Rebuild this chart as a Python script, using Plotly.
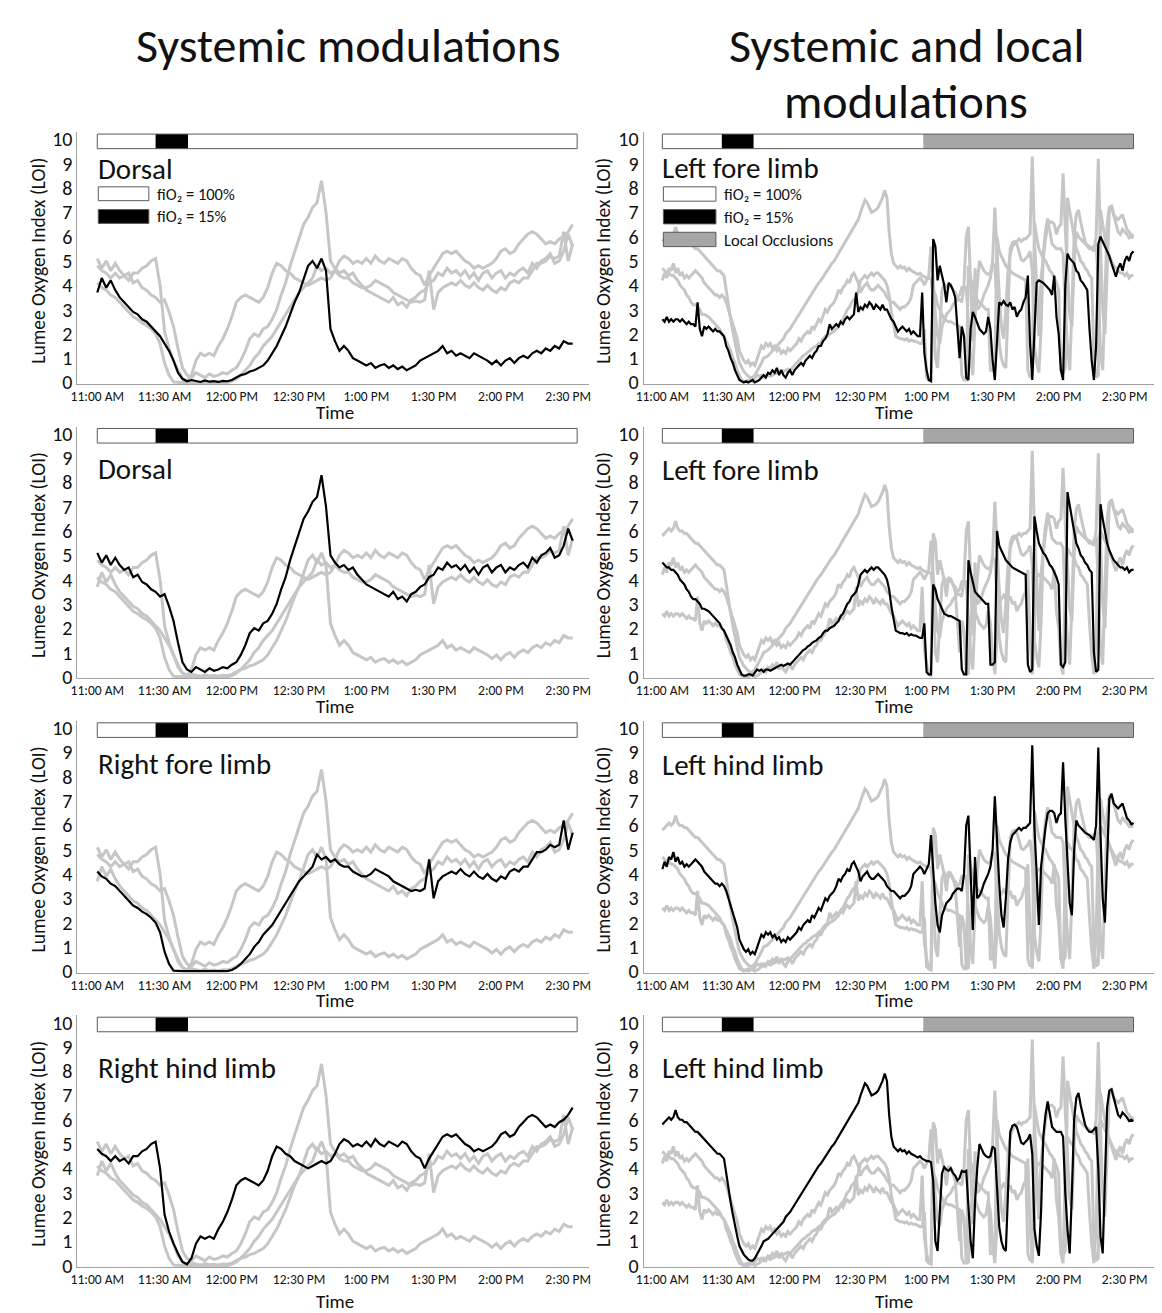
import plotly.graph_objects as go

W, H = 1162, 1313
FONT = "Calibri, Carlito, Lato, sans-serif"

# ---------------- data ----------------
tick_minutes = [0, 30, 60, 90, 120, 150, 180, 210]
tick_labels = ["11:00 AM", "11:30 AM", "12:00 PM", "12:30 PM",
               "1:00 PM", "1:30 PM", "2:00 PM", "2:30 PM"]
y_ticks = list(range(0, 11))

left_labels = ["Dorsal", "Dorsal", "Right fore limb", "Right hind limb"]
right_labels = ["Left fore limb", "Left fore limb", "Left hind limb", "Left hind limb"]

left_phase_start = [0, 26, 40.5]
left_phase_end = [26, 40.5, 214]
left_phase_fill = ["white", "black", "white"]
right_phase_start = [0, 27, 41.5, 118.5]
right_phase_end = [27, 41.5, 118.5, 214]
right_phase_fill = ["white", "black", "white", "#a6a6a6"]

legend_left = ["fiO\u2082 = 100%", "fiO\u2082 = 15%"]
legend_right = ["fiO\u2082 = 100%", "fiO\u2082 = 15%", "Local Occlusions"]
legend_fill = ["white", "black", "#a6a6a6"]

# minutes after 11:00 AM
t_left = list(range(0, 213, 2))
t_right = list(range(0, 215))

L1 = [3.7, 4.3, 3.9, 4.2, 3.8, 3.5, 3.3, 3.1, 2.9, 2.8,
      2.6, 2.5, 2.3, 2.1, 1.9, 1.6, 1.3, 0.9, 0.4, 0.15,
      0.05, 0.1, 0.05, 0.02, 0.08, 0.03, 0.05, 0.02, 0.06, 0.05,
      0.1, 0.2, 0.3, 0.35, 0.45, 0.5, 0.6, 0.7, 0.9, 1.2,
      1.5, 1.9, 2.3, 2.8, 3.3, 3.7, 4.3, 4.8, 5.0, 4.7,
      5.1, 4.6, 2.2, 1.7, 1.3, 1.5, 1.3, 1.0, 0.9, 0.8,
      0.7, 0.8, 0.6, 0.7, 0.75, 0.6, 0.7, 0.55, 0.65, 0.5,
      0.6, 0.7, 0.9, 1.0, 1.1, 1.2, 1.3, 1.5, 1.2, 1.3,
      1.1, 1.2, 1.1, 1.0, 1.2, 1.1, 1.0, 0.9, 0.75, 0.9,
      0.7, 0.9, 1.0, 0.8, 1.0, 1.1, 1.0, 1.2, 1.3, 1.2,
      1.4, 1.3, 1.5, 1.4, 1.7, 1.6, 1.6]
L2 = [5.1, 4.7, 5.0, 4.6, 4.9, 4.6, 4.4, 4.5, 4.1, 4.2,
      3.9, 3.8, 3.6, 3.5, 3.3, 3.4, 2.9, 2.3, 1.4, 0.6,
      0.3, 0.2, 0.4, 0.3, 0.2, 0.35, 0.25, 0.3, 0.4, 0.35,
      0.5, 0.6, 0.9, 1.3, 1.8, 2.0, 1.9, 2.2, 2.3, 2.6,
      3.0, 3.6, 4.1, 4.8, 5.4, 6.0, 6.5, 6.8, 7.2, 7.4,
      8.3, 7.0, 5.0, 4.7, 4.5, 4.6, 4.4, 4.5, 4.2, 4.0,
      3.8, 3.7, 3.6, 3.5, 3.4, 3.3, 3.5, 3.2, 3.3, 3.1,
      3.4, 3.5, 3.7, 3.8, 4.1, 4.2, 4.5, 4.4, 4.7, 4.5,
      4.6, 4.4, 4.6, 4.3, 4.5, 4.2, 4.5, 4.6, 4.3, 4.5,
      4.6, 4.3, 4.5, 4.4, 4.6, 4.7, 4.5, 4.9, 4.7, 5.0,
      5.1, 5.3, 4.9, 5.0, 5.4, 6.1, 5.6]
L3 = [4.1, 3.9, 3.8, 3.6, 3.5, 3.3, 3.1, 2.9, 2.7, 2.6,
      2.45, 2.35, 2.2, 2.0, 1.6, 0.8, 0.3, 0.02, 0.0, 0.0,
      0.0, 0.0, 0.0, 0.0, 0.0, 0.0, 0.0, 0.0, 0.0, 0.0,
      0.05, 0.15, 0.3, 0.5, 0.7, 1.0, 1.2, 1.5, 1.7, 1.9,
      2.2, 2.5, 2.8, 3.1, 3.4, 3.7, 3.9, 4.1, 4.3, 4.8,
      4.6, 4.7, 4.5, 4.6, 4.4, 4.3, 4.3, 4.1, 4.0, 3.9,
      3.9, 4.0, 4.2, 4.1, 4.0, 3.9, 3.7, 3.6, 3.5, 3.4,
      3.3, 3.35, 3.3, 3.4, 4.6, 3.0, 3.7, 3.9, 4.0, 4.1,
      4.0, 4.2, 4.0, 3.9, 4.1, 3.9, 3.8, 4.0, 3.8, 3.7,
      3.9, 3.8, 4.1, 4.2, 4.1, 4.3, 4.3, 4.6, 4.9, 4.9,
      5.0, 5.2, 5.1, 5.2, 6.2, 5.0, 5.7]
L4 = [4.8, 4.6, 4.5, 4.3, 4.5, 4.3, 4.4, 4.2, 4.5, 4.5,
      4.7, 4.8, 5.0, 5.1, 4.0, 2.1, 1.4, 0.9, 0.5, 0.15,
      0.05, 0.3, 0.9, 1.2, 1.1, 1.2, 1.1, 1.5, 1.8, 2.2,
      2.7, 3.3, 3.5, 3.6, 3.5, 3.4, 3.3, 3.5, 3.9, 4.5,
      4.9, 4.8, 4.6, 4.5, 4.3, 4.2, 4.1, 4.0, 4.1, 4.2,
      4.3, 4.2, 4.3, 4.6, 5.0, 5.2, 5.1, 4.9, 5.0, 4.9,
      5.1, 4.9, 5.2, 5.0, 4.9, 5.1, 5.0, 4.9, 5.1, 5.0,
      4.7, 4.5, 4.4, 4.0, 4.4, 4.7, 5.0, 5.3, 5.4, 5.3,
      5.4, 5.2, 5.0, 4.9, 4.7, 4.8, 4.7, 4.8, 4.9, 5.1,
      5.4, 5.5, 5.3, 5.4, 5.7, 5.9, 6.1, 6.2, 6.1, 5.9,
      5.7, 5.8, 5.7, 5.9, 6.0, 6.2, 6.5]

R1 = [2.6, 2.5, 2.7, 2.5, 2.6, 2.5, 2.6, 2.6, 2.5, 2.6,
      2.5, 2.4, 2.5, 2.4, 2.4, 2.3, 3.3, 2.2, 1.9, 2.3,
      2.2, 2.3, 2.2, 2.1, 2.2, 2.1, 2.1, 2.0, 1.9, 1.5,
      1.3, 1.0, 0.8, 0.5, 0.3, 0.1, 0.05, 0.0, 0.05, 0.0,
      0.05, 0.1, 0.0, 0.05, 0.1, 0.2, 0.3, 0.2, 0.4, 0.35,
      0.5, 0.4, 0.6, 0.3, 0.5, 0.3, 0.2, 0.4, 0.5, 0.3,
      0.5, 0.6, 0.7, 0.8, 0.7, 0.9, 1.0, 1.1, 1.0, 1.2,
      1.3, 1.5, 1.5, 1.7, 1.8, 2.0, 2.4, 2.2, 2.3, 2.4,
      2.3, 2.5, 2.4, 2.6, 2.7, 2.6, 2.7, 2.8, 3.7, 2.9,
      3.1, 3.0, 3.2, 3.1, 3.3, 3.2, 3.0, 3.2, 3.1, 3.0,
      3.2, 3.0, 3.0, 2.8, 2.6, 2.5, 2.3, 2.1, 2.2, 2.3,
      2.2, 2.1, 2.2, 2.0, 2.1, 2.0, 1.9, 1.9, 3.7, 1.2,
      0.5, 0.1, 0.05, 5.9, 5.6, 4.2, 4.8, 4.4, 4.0, 3.3,
      4.1, 4.0, 3.8, 3.5, 2.3, 1.0, 2.3, 1.9, 0.2, 0.1,
      2.2, 2.9, 2.7, 2.4, 2.2, 2.1, 2.0, 2.1, 2.7, 2.2,
      0.9, 0.1, 1.9, 3.3, 3.2, 3.35, 3.2, 3.15, 3.3, 3.0,
      3.1, 2.7, 2.9, 3.0, 3.3, 3.5, 4.4, 1.6, 0.1, 1.9,
      4.1, 4.2, 4.15, 4.1, 4.0, 3.9, 3.8, 3.6, 4.4, 2.7,
      2.0, 0.5, 0.1, 4.0, 5.3, 5.1, 5.0, 4.9, 4.6, 4.5,
      4.2, 4.1, 3.95, 3.8, 2.2, 0.9, 0.1, 1.5, 5.7, 6.0,
      5.8, 5.6, 5.45, 5.2, 4.9, 4.6, 4.35, 4.7, 4.9, 4.6,
      5.0, 5.2, 5.0, 5.3, 5.4]
R2 = [4.7, 4.6, 4.5, 4.5, 4.4, 4.4, 4.3, 4.2, 4.0, 3.9,
      3.8, 3.6, 3.5, 3.3, 3.2, 3.2, 3.1, 3.0, 2.8, 2.8,
      2.75, 2.7, 2.6, 2.5, 2.4, 2.3, 2.2, 2.0, 1.9, 1.7,
      1.5, 1.3, 1.0, 0.8, 0.5, 0.3, 0.1, 0.05, 0.05, 0.1,
      0.1, 0.05, 0.2, 0.3, 0.25, 0.3, 0.2, 0.3, 0.3, 0.25,
      0.3, 0.35, 0.4, 0.45, 0.5, 0.45, 0.5, 0.55, 0.5, 0.6,
      0.7, 0.8, 0.9, 1.0, 1.1, 1.15, 1.25, 1.3, 1.4, 1.45,
      1.5, 1.6, 1.65, 1.8, 1.9, 1.9, 2.0, 2.05, 2.1, 2.2,
      2.3, 2.5, 2.6, 2.8, 3.0, 3.1, 3.3, 3.4, 3.5, 3.8,
      4.2, 4.3, 4.4, 4.3, 4.4, 4.5, 4.4, 4.5, 4.5, 4.4,
      4.3, 4.2, 4.0, 3.6, 2.9, 2.4, 1.9, 1.85, 1.8, 1.8,
      1.75, 1.8, 1.7, 1.75, 1.7, 1.7, 1.65, 1.6, 1.6, 2.2,
      0.2, 0.1, 0.1, 3.8, 3.6, 3.2, 3.0, 2.8, 2.6, 2.55,
      2.5, 2.5, 2.45, 2.4, 2.35, 2.3, 0.3, 0.1, 0.1, 4.8,
      4.3, 3.9, 3.5, 3.4, 3.3, 3.2, 3.1, 3.0, 3.0, 0.5,
      0.5, 0.6, 6.0, 5.4, 5.2, 5.0, 4.8, 4.7, 4.6, 4.5,
      4.45, 4.4, 4.35, 4.3, 4.25, 4.2, 0.5, 0.2, 0.3, 6.6,
      6.0, 5.5, 5.3, 5.1, 5.0, 4.8, 4.6, 4.5, 4.3, 4.1,
      3.8, 0.5, 0.4, 0.6, 7.6, 7.0, 6.5, 6.0, 5.5, 5.3,
      5.0, 4.9, 4.7, 4.6, 4.4, 4.3, 1.0, 0.2, 0.3, 7.1,
      6.5, 6.0, 5.5, 5.2, 5.0, 4.8, 4.7, 4.6, 4.5, 4.5,
      4.4, 4.5, 4.3, 4.4, 4.4]
R3 = [4.2, 4.5, 4.3, 4.7, 4.6, 4.9, 4.5, 4.7, 4.4, 4.5,
      4.3, 4.4, 4.3, 4.4, 4.5, 4.6, 4.5, 4.4, 4.3, 4.1,
      4.0, 3.9, 3.8, 3.7, 3.6, 3.6, 3.5, 3.6, 3.5, 3.3,
      3.0, 2.7, 2.4, 2.1, 1.8, 1.3, 1.1, 0.9, 0.8, 0.9,
      0.7, 0.8, 0.7, 1.0, 1.3, 1.5, 1.4, 1.6, 1.5, 1.6,
      1.4, 1.5, 1.3, 1.4, 1.2, 1.3, 1.2, 1.4, 1.3, 1.4,
      1.5, 1.6, 1.8, 1.7, 1.9, 2.0, 2.1, 2.0, 2.3, 2.2,
      2.4, 2.6, 2.5, 2.8, 3.0, 2.9, 3.1, 3.2, 3.3, 3.5,
      3.8, 3.7, 3.9, 4.0, 4.2, 4.1, 4.4, 4.5, 4.3, 4.1,
      3.7, 3.9, 4.0, 4.1, 3.9, 3.8, 3.8, 3.9, 4.0, 3.9,
      3.8, 3.7, 3.5, 3.4, 3.3, 3.3, 3.2, 3.1, 3.0, 3.1,
      3.1, 3.2, 3.3, 3.5, 4.0, 4.1, 4.2, 4.3, 4.2, 4.0,
      4.2, 4.4, 5.6, 4.2, 2.8, 1.9, 1.6, 2.3, 2.6, 2.8,
      2.9, 3.0, 3.2, 3.3, 3.4, 3.4, 3.3, 4.0, 6.0, 6.4,
      3.6, 1.7, 4.7, 3.0, 3.1, 3.3, 3.6, 3.8, 4.0, 4.3,
      5.0, 7.2, 5.2, 3.6, 2.3, 1.8, 3.0, 4.6, 5.3, 5.6,
      5.7, 5.8, 5.9, 5.8, 5.9, 5.9, 6.0, 6.1, 9.3, 5.9,
      4.0, 1.9, 4.3, 5.2, 5.9, 6.5, 6.6, 6.6, 6.5, 6.1,
      6.4, 6.5, 8.6, 6.3, 4.3, 2.8, 2.3, 4.9, 6.2, 6.0,
      5.9, 5.8, 5.7, 5.65, 5.6, 5.5, 5.4, 6.0, 9.2, 5.6,
      3.0, 2.0, 5.0, 7.1, 7.3, 6.9, 6.8, 6.7, 6.8, 6.9,
      6.6, 6.3, 6.2, 6.05, 6.1]
R4 = [5.8, 5.9, 6.0, 6.1, 6.0, 6.1, 6.4, 6.1, 6.0, 6.0,
      5.9, 5.9, 5.8, 5.7, 5.6, 5.5, 5.5, 5.4, 5.3, 5.2,
      5.1, 5.0, 4.9, 4.8, 4.7, 4.6, 4.6, 4.5, 4.4, 3.8,
      3.1, 2.6, 2.1, 1.6, 1.2, 0.8, 0.6, 0.45, 0.35, 0.25,
      0.2, 0.2, 0.3, 0.45, 0.6, 0.8, 1.0, 1.05, 1.1, 1.2,
      1.3, 1.4, 1.5, 1.6, 1.7, 1.8, 2.0, 2.1, 2.2, 2.35,
      2.5, 2.6, 2.8, 2.95, 3.1, 3.2, 3.35, 3.5, 3.65, 3.8,
      3.95, 4.1, 4.2, 4.35, 4.5, 4.6, 4.75, 4.9, 5.0, 5.15,
      5.3, 5.45, 5.6, 5.75, 5.9, 6.05, 6.2, 6.35, 6.5, 6.7,
      7.0, 7.3, 7.5, 7.4, 7.2, 7.0, 7.05, 7.1, 7.2, 7.4,
      7.6, 7.9, 7.6, 6.2, 5.3, 4.9, 4.8, 4.7, 4.8, 4.7,
      4.75, 4.6, 4.7, 4.6, 4.55, 4.5, 4.45, 4.5, 4.4, 4.35,
      4.3, 4.3, 4.25, 3.5, 1.0, 0.6, 2.0, 3.8, 4.05, 3.95,
      3.9, 4.0, 3.8, 3.7, 3.5, 3.6, 3.9, 3.85, 3.9, 2.2,
      1.0, 0.3, 2.6, 4.0, 5.0, 4.8, 4.6, 4.5, 4.45, 4.5,
      4.9, 4.8, 3.0, 1.6, 1.0, 0.7, 0.6, 3.5, 5.5, 5.75,
      5.8, 5.7, 5.4, 5.05, 5.0, 5.1, 5.2, 5.4, 4.6, 1.5,
      0.8, 0.4, 2.2, 5.3, 6.2, 6.75, 6.3, 5.7, 5.6, 5.5,
      5.5, 5.5, 5.3, 3.0, 1.5, 0.5, 3.0, 6.0, 6.9, 7.1,
      6.6, 6.2, 5.8, 5.6, 5.5, 5.5, 5.6, 5.7, 4.0, 1.2,
      0.5, 3.5, 6.5, 7.2, 7.25, 6.9, 6.6, 6.2, 6.1, 6.3,
      6.2, 6.1, 5.95, 6.0, 5.95]

left_series = [L1, L2, L3, L4]
right_series = [R1, R2, R3, R4]

# ---------------- geometry (pixels) ----------------
col_px = [(62, 578), (633, 1151)]
col_range = [(-8.84, 219.3), (-8.55, 224.7)]
row_zero = [374, 672, 970, 1268]
UNIT = 24.6
YMIN, YMAX = -0.06, 10.3


def xp(px):
    return px / W


def yp(py):
    return 1 - py / H


GRAY = "#c6c6c6"
AXIS = "#a0a0a0"
TXT = "#111111"

fig = go.Figure()
layout = dict(width=W, height=H, margin=dict(l=0, r=0, t=0, b=0),
              plot_bgcolor="white", paper_bgcolor="white", showlegend=False,
              font=dict(family=FONT, color=TXT))
shapes = []
annotations = []

panels = []
for c in range(2):
    for r in range(4):
        panels.append((c, r))

for k, (c, r) in enumerate(panels, start=1):
    xs = "x" if k == 1 else f"x{k}"
    ys = "y" if k == 1 else f"y{k}"
    xa = "xaxis" if k == 1 else f"xaxis{k}"
    ya = "yaxis" if k == 1 else f"yaxis{k}"
    z = row_zero[r]
    layout[xa] = dict(domain=[xp(col_px[c][0]), xp(col_px[c][1])],
                      range=list(col_range[c]), anchor=ys,
                      tickvals=tick_minutes, ticktext=tick_labels,
                      showline=True, linecolor=AXIS, linewidth=1,
                      showgrid=False, zeroline=False, ticks="",
                      tickfont=dict(size=13.5, family=FONT, color=TXT))
    layout[ya] = dict(domain=[yp(z - YMIN * UNIT), yp(z - YMAX * UNIT)],
                      range=[YMIN, YMAX], anchor=xs,
                      tickvals=y_ticks, showline=True, linecolor=AXIS,
                      linewidth=1, showgrid=False, zeroline=False, ticks="",
                      tickfont=dict(size=20, family=FONT, color=TXT))

    series = left_series if c == 0 else right_series
    tt = t_left if c == 0 else t_right
    for j, s in enumerate(series):
        if j != r:
            fig.add_trace(go.Scatter(x=tt, y=s, mode="lines", xaxis=xs, yaxis=ys,
                                     line=dict(color=GRAY, width=3), hoverinfo="skip"))
    fig.add_trace(go.Scatter(x=tt, y=series[r], mode="lines", xaxis=xs, yaxis=ys,
                             line=dict(color="black", width=2.2), hoverinfo="skip"))

    # condition bar
    ps = left_phase_start if c == 0 else right_phase_start
    pe = left_phase_end if c == 0 else right_phase_end
    pf = left_phase_fill if c == 0 else right_phase_fill
    for a, b, f in zip(ps, pe, pf):
        shapes.append(dict(type="rect", xref=xs, yref=ys, x0=a, x1=b, y0=9.62, y1=10.22,
                           fillcolor=f, line=dict(width=0)))
    shapes.append(dict(type="rect", xref=xs, yref=ys, x0=ps[0], x1=pe[-1], y0=9.62, y1=10.22,
                       fillcolor="rgba(0,0,0,0)", line=dict(color="#5a5a5a", width=1)))

    # panel label
    label = left_labels[r] if c == 0 else right_labels[r]
    lab_y = [158, 462, 760, 1068][r] if c == 0 else [157, 463, 761, 1068][r]
    annotations.append(dict(text=label, x=xp(81 if c == 0 else 650), y=yp(lab_y),
                            xref="paper", yref="paper", xanchor="left", yanchor="middle",
                            showarrow=False, font=dict(size=29, family=FONT, color=TXT)))
    # y title
    annotations.append(dict(text="Lumee Oxygen Index (LOI)", textangle=-90,
                            x=xp(22 if c == 0 else 592), y=yp(z - 5 * UNIT),
                            xref="paper", yref="paper", xanchor="center", yanchor="middle",
                            showarrow=False, font=dict(size=19.5, family=FONT, color=TXT)))
    # x title
    annotations.append(dict(text="Time", x=xp(322 if c == 0 else 886),
                            y=yp(z + (30 if r < 3 else 36)),
                            xref="paper", yref="paper", xanchor="center", yanchor="middle",
                            showarrow=False, font=dict(size=19, family=FONT, color=TXT)))

# legends in the first row
for i, txt in enumerate(legend_left):
    y0 = 176 + 23 * i
    shapes.append(dict(type="rect", xref="paper", yref="paper", x0=xp(83), x1=xp(134),
                       y0=yp(y0 + 14), y1=yp(y0), fillcolor=legend_fill[i],
                       line=dict(color="#5a5a5a", width=1)))
    annotations.append(dict(text=txt, x=xp(140), y=yp(y0 + 7), xref="paper", yref="paper",
                            xanchor="left", yanchor="middle", showarrow=False,
                            font=dict(size=16.5, family=FONT, color=TXT)))
for i, txt in enumerate(legend_right):
    y0 = 176 + 23 * i
    shapes.append(dict(type="rect", xref="paper", yref="paper", x0=xp(653), x1=xp(706),
                       y0=yp(y0 + 14.5), y1=yp(y0), fillcolor=legend_fill[i],
                       line=dict(color="#5a5a5a", width=1)))
    annotations.append(dict(text=txt, x=xp(712), y=yp(y0 + 7.5), xref="paper", yref="paper",
                            xanchor="left", yanchor="middle", showarrow=False,
                            font=dict(size=16.5, family=FONT, color=TXT)))

# column titles
for txt, x, y in [("Systemic modulations", 335, 33), ("Systemic and local", 898, 33),
                  ("modulations", 898, 90)]:
    annotations.append(dict(text=txt, x=xp(x), y=yp(y), xref="paper", yref="paper",
                            xanchor="center", yanchor="middle", showarrow=False,
                            font=dict(size=48, family=FONT, color=TXT)))

layout["shapes"] = shapes
layout["annotations"] = annotations
fig.update_layout(**layout)
fig.write_html("out.html")
